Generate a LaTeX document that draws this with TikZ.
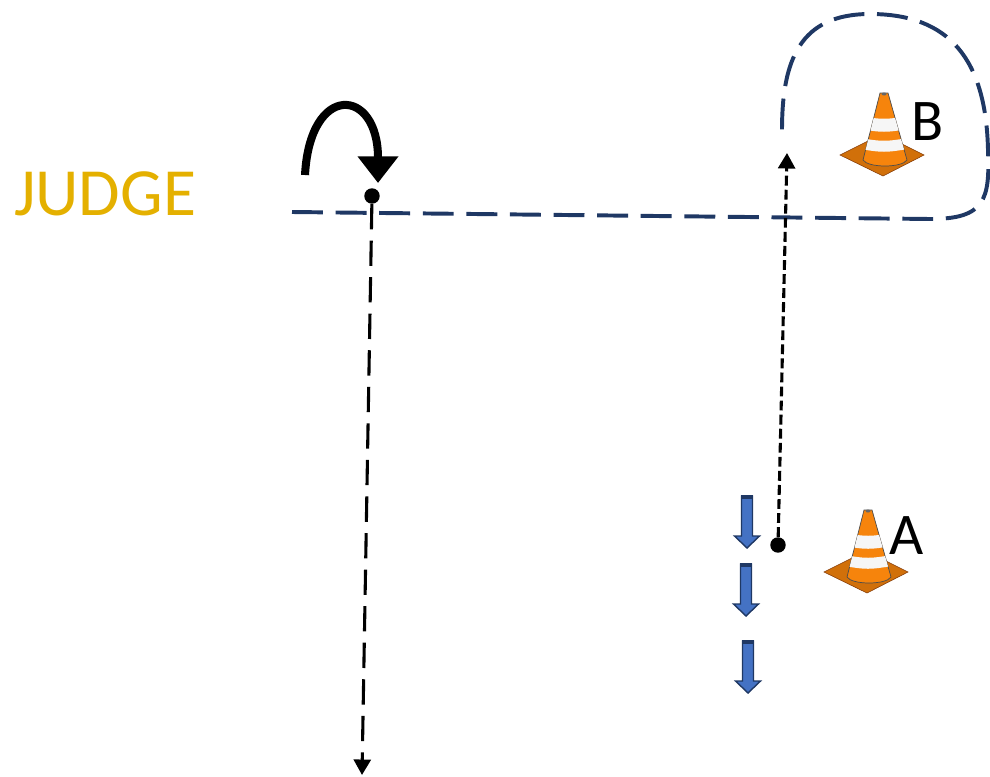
\documentclass[tikz,border=0pt]{standalone}
\usepackage{fontspec}
\setmainfont{Carlito}
\usetikzlibrary{arrows.meta}

\definecolor{navy}{RGB}{31,56,100}
\definecolor{gold}{RGB}{228,176,0}
\definecolor{coneorange}{RGB}{246,132,12}
\definecolor{conedark}{RGB}{190,85,10}
\definecolor{arrowblue}{RGB}{68,114,196}

\tikzset{
  dot/.style={circle, fill=black, inner sep=0pt, minimum size=11pt},
  boundary/.style={navy, line width=2.8pt, dash pattern=on 22pt off 9pt},
  judgepath/.style={black, line width=2.2pt, dash pattern=on 18pt off 8pt, -{Triangle[width=12pt,length=11pt]}},
  runpath/.style={black, line width=2.2pt, dash pattern=on 7pt off 3pt, -{Triangle[width=12pt,length=11pt]}},
  letter/.style={font=\fontsize{42}{42}\selectfont, inner sep=0pt},
  cone/.pic={
    % base plate
    \draw[conedark!70!black, line width=0.4pt, fill=coneorange!85!black] (-44,-5) -- (-2,-26) -- (40,-5) -- (-1,16) -- cycle;
    % body
    \draw[black!70, line width=0.5pt, fill=coneorange] (-4,-67) -- (-21,0) .. controls (-16,8) and (18,8) .. (23,0) -- (4,-67) -- cycle;
    \begin{scope}
      \clip (-4,-67) -- (-21,0) .. controls (-16,8) and (18,8) .. (23,0) -- (4,-67) -- cycle;
      \fill[white!93!gray] (-30,-45) .. controls (0,-40) .. (30,-45) -- (30,-32) .. controls (0,-27) .. (-30,-32) -- cycle;
      \fill[white!93!gray] (-30,-23) .. controls (0,-18) .. (30,-23) -- (30,-12) .. controls (0,-7) .. (-30,-12) -- cycle;
    \end{scope}
    \fill[black!60] (0,-66) ellipse (2.5 and 1.5);
  },
  bluearrow/.pic={
    \draw[navy, line width=1pt, fill=arrowblue] (-5.5,0) -- (5.5,0) -- (5.5,40) -- (12.5,40) -- (0,52) -- (-12.5,40) -- (-5.5,40) -- cycle;
    \fill[navy] (-6,-1) rectangle (6,3);
  }
}

\begin{document}
\begin{tikzpicture}[x=0.025cm, y=-0.025cm]
  \useasboundingbox (0,0) rectangle (990,776);

  % Judge line and area round cone B
  \draw[boundary] (292,212) -- (930,219) .. controls (985,219) and (990,200) .. (988,150)
    .. controls (986,60) and (950,14) .. (870,14) .. controls (800,14) and (782,60) .. (782,130);

  % Define nodes
  \node[font=\fontsize{48}{48}\selectfont, text=gold, inner sep=0pt] (judge) at (105,194) {JUDGE};
  \node[dot] (J) at (372,196) {}; % judge position
  \node[dot] (P) at (778,545) {}; % start point
  \coordinate (Jend) at (362,775);
  \coordinate (Pend) at (787,153);

  % Cones
  \pic at (884,160) {cone};
  \pic at (868,577) {cone};
  \node[letter] (B) at (928,122) {B};
  \node[letter] (A) at (907,536) {A};

  % Blue arrows
  \pic at (747,496) {bluearrow};
  \pic at (746,564) {bluearrow};
  \pic at (748,641) {bluearrow};

  % Turn arrow
  \coordinate (T1) at (305,175);
  \coordinate (T2) at (378,183);
  \draw[line width=5.7pt, -{Triangle[width=28pt,length=19pt]}] (T1) .. controls (310,82) and (378,87) .. (T2);

  % Define edges
  \draw[judgepath] (J) -- (Jend);
  \draw[runpath] (P) -- (Pend);
\end{tikzpicture}
\end{document}
